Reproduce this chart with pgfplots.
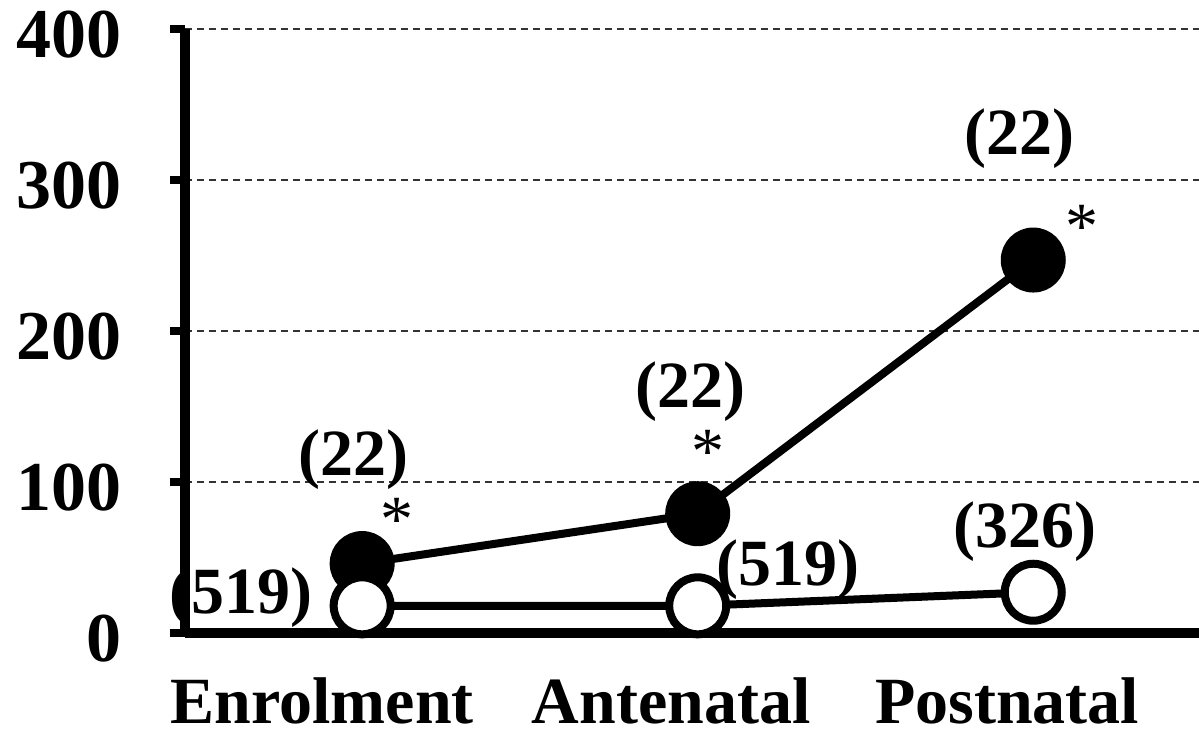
\documentclass[border=0pt]{standalone}
\usepackage{fontspec}
\setmainfont{Liberation Serif}
\usepackage{pgfplots}
\pgfplotsset{compat=1.18}

\begin{document}
\begin{tikzpicture}
  \useasboundingbox (-92.5pt,-53pt) rectangle (507pt,316.5pt);
  \begin{axis}[
    at={(0,0)}, anchor=south west,
    scale only axis,
    width=507pt, height=302pt,
    xmin=-0.528, xmax=2.494,
    ymin=0, ymax=400,
    axis x line=bottom,
    axis y line=left,
    axis line style={-, line width=5pt},
    clip=false,
    xtick={-0.119,0.921,1.922},
    xticklabels={Enrolment,Antenatal,Postnatal},
    x tick style={draw=none},
    xticklabel style={font=\fontsize{33}{38}\selectfont\bfseries, anchor=north, inner sep=0pt, yshift=-14.5pt},
    ytick={0,100,200,300,400},
    tick align=outside,
    major tick length=7.5pt,
    y tick style={line width=4pt, black},
    yticklabel style={font=\fontsize{35}{40}\selectfont\bfseries, anchor=east, inner sep=0pt, xshift=-24pt, yshift=-3pt},
    /pgf/number format/assume math mode=true,
    ymajorgrids,
    grid style={dashed, line width=0.9pt, black!80, dash pattern=on 3.5pt off 2.5pt},
  ]
    % filled circles
    \addplot[black, line width=4pt, mark=*, mark size=14.25pt,
      mark options={fill=black, draw=black, line width=4pt}]
      coordinates {(0,46) (1,79) (2,247)};
    % open circles
    \addplot[black, line width=4pt, mark=*, mark size=14.25pt,
      mark options={fill=white, draw=black, line width=4pt}]
      coordinates {(0,18) (1,18) (2,27)};
    \begin{scope}[every node/.style={font=\fontsize{33}{38}\selectfont\bfseries, inner sep=0pt}]
      \node at (axis cs:-0.027,114.6) {(22)};
      \node at (axis cs:0.978,159.6) {(22)};
      \node at (axis cs:1.958,327.5) {(22)};
      \node at (axis cs:-0.361,23.2) {(519)};
      \node at (axis cs:1.270,41.7) {(519)};
      \node at (axis cs:1.976,66.9) {(326)};
    \end{scope}
    \begin{scope}[every node/.style={font=\fontsize{33}{38}\selectfont, inner sep=0pt, anchor=north}]
      \node at (axis cs:0.104,89.4) {*};
      \node at (axis cs:1.031,134.4) {*};
      \node at (axis cs:2.146,283.4) {*};
    \end{scope}
  \end{axis}
\end{tikzpicture}
\end{document}
